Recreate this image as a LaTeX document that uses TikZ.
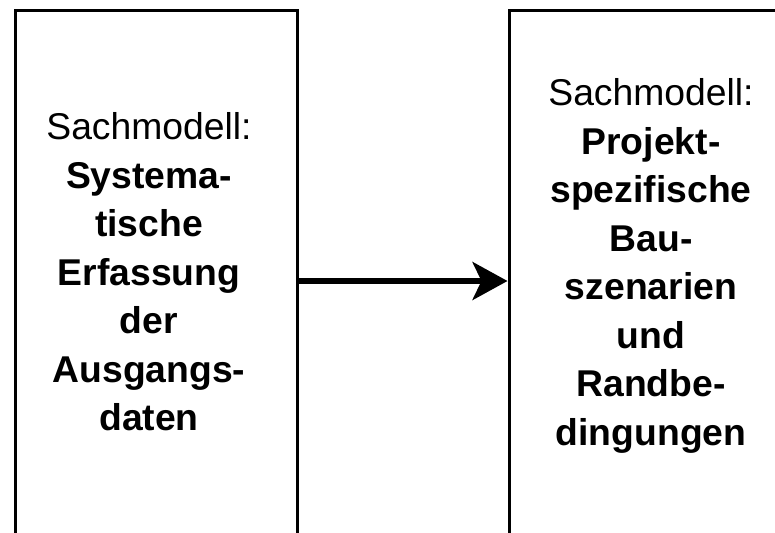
\documentclass[tikz,border=0pt]{standalone}
\usepackage{fontspec}
\setmainfont{Liberation Sans}
\usetikzlibrary{arrows.meta}
\begin{document}
\begin{tikzpicture}[x=1pt,y=-1pt,
  boxst/.style={draw=black, line width=3pt, rectangle, inner sep=0pt},
  txt/.style={align=center, font=\fontsize{37.3}{48.5}\selectfont, inner sep=0pt},
  arr/.style={line width=5.5pt, -{Stealth[length=35pt,width=38pt,inset=9pt]}}]
\useasboundingbox (0,0) rectangle (775,532);
\node[boxst, minimum width=282pt, minimum height=610pt] (a) at (156,315.5) {};
\node[boxst, minimum width=311pt, minimum height=610pt] (b) at (664.5,315.5) {};
\node[txt] (ta) at (149,272) {Sachmodell:\\\textbf{Systema-}\\\textbf{tische}\\\textbf{Erfassung}\\\textbf{der}\\\textbf{Ausgangs-}\\\textbf{daten}};
\node[txt] (tb) at (651,266) {Sachmodell:\\\textbf{Projekt-}\\\textbf{spezifische}\\\textbf{Bau-}\\\textbf{szenarien}\\\textbf{und}\\\textbf{Randbe-}\\\textbf{dingungen}};
\draw[arr] (a.east |- 0,281) -- (b.west |- 0,281);
\end{tikzpicture}
\end{document}
